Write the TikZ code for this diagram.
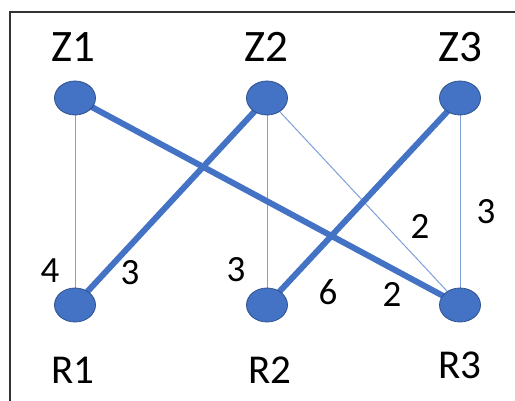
\documentclass[tikz,border=0pt]{standalone}
\usepackage{fontspec}
\setmainfont{Carlito}
\usetikzlibrary{shapes.geometric}
\definecolor{nodeblue}{HTML}{4472C4}
\definecolor{nodeedge}{HTML}{2F528F}
\definecolor{thinblue}{HTML}{7F9FD8}
\begin{document}
\begin{tikzpicture}[x=1pt,y=-1pt,
  vert/.style={ellipse, draw=nodeedge, line width=0.8pt, fill=nodeblue, minimum width=41pt, minimum height=34pt, inner sep=0pt},
  thin edge/.style={draw=thinblue, line width=1pt},
  thick edge/.style={draw=nodeblue, line width=6pt},
  ttl/.style={font=\fontsize{45}{45}\selectfont, inner sep=0pt},
  rtl/.style={font=\fontsize{41}{41}\selectfont, inner sep=0pt},
  wt/.style={font=\fontsize{37}{37}\selectfont, inner sep=0pt}]
\useasboundingbox (0,0) rectangle (515,401);
\draw[black!80, line width=1.2pt] (515,12) -- (10,12) -- (10,401);
\coordinate (cz1) at (75,98);
\coordinate (cz2) at (267,98);
\coordinate (cz3) at (460,98);
\coordinate (cr1) at (75,305);
\coordinate (cr2) at (267,305);
\coordinate (cr3) at (460,305);
% edges
\draw[thin edge] (cz1) -- (cr1);
\draw[thin edge] (cz2) -- (cr2);
\draw[thin edge] (cz2) -- (cr3);
\draw[thin edge] (cz3) -- (cr3);
\draw[thick edge] (cz1) -- (cr3);
\draw[thick edge] (cz2) -- (cr1);
\draw[thick edge] (cz3) -- (cr2);
% nodes
\node[vert] (z1) at (cz1) {};
\node[vert] (z2) at (cz2) {};
\node[vert] (z3) at (cz3) {};
\node[vert] (r1) at (cr1) {};
\node[vert] (r2) at (cr2) {};
\node[vert] (r3) at (cr3) {};
% labels
\node[ttl] (lz1) at (73,47) {Z1};
\node[ttl] (lz2) at (266,47) {Z2};
\node[ttl] (lz3) at (460,47) {Z3};
\node[rtl] (lr1) at (73,370) {R1};
\node[rtl] (lr2) at (270,370) {R2};
\node[rtl] (lr3) at (460,365) {R3};
% weights
\node[wt] (w1) at (50,271) {4};
\node[wt] (w2) at (130,273) {3};
\node[wt] (w3) at (236,270) {3};
\node[wt] (w4) at (328,292) {6};
\node[wt] (w5) at (392,294) {2};
\node[wt] (w6) at (420,226) {2};
\node[wt] (w7) at (486,212) {3};
\end{tikzpicture}
\end{document}
